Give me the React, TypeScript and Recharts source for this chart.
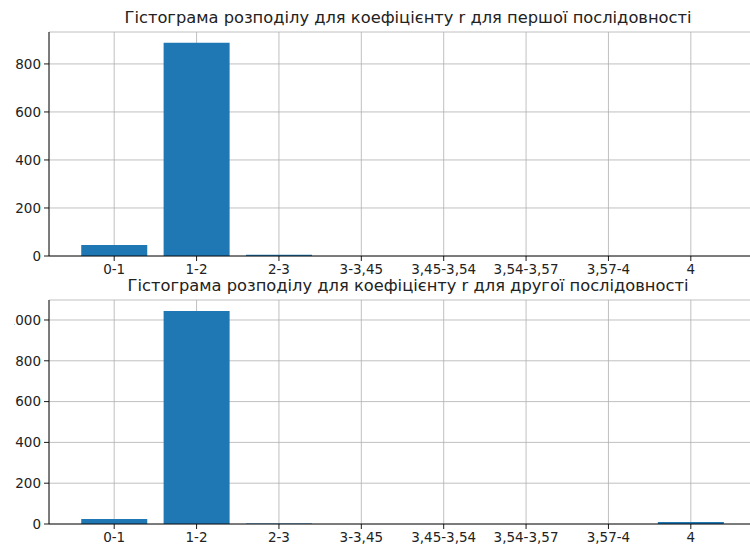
import { BarChart, Bar, XAxis, YAxis, CartesianGrid } from "recharts";

const categories = ["0-1", "1-2", "2-3", "3-3,45", "3,45-3,54", "3,54-3,57", "3,57-4", "4"];
const firstCounts = [46, 888, 5, 0, 0, 0, 0, 0];
const secondCounts = [25, 1044, 3, 0, 0, 0, 0, 10];
const firstTicks = [0, 200, 400, 600, 800];
const secondTicks = [0, 200, 400, 600, 800, 1000];

const firstTitle = "Гістограма розподілу для коефіцієнту r для першої послідовності";
const secondTitle = "Гістограма розподілу для коефіцієнту r для другої послідовності";

const FONT = "'DejaVu Sans', sans-serif";
const tickStyle = { fontSize: 13.5, fill: "#222", fontFamily: FONT };

function Histogram({ data, ticks, max, top, height, marginTop, xHeight, title }: {
  data: { name: string; count: number }[];
  ticks: number[];
  max: number;
  top: number;
  height: number;
  marginTop: number;
  xHeight: number;
  title: string;
}) {
  return (
    <div style={{ position: "absolute", left: 0, top, width: 800, height }}>
      <div
        style={{
          position: "absolute", left: 49, width: 718, top: marginTop - 23,
          textAlign: "center", fontFamily: FONT, fontSize: 16.3, lineHeight: "18px",
          color: "#222", whiteSpace: "nowrap",
        }}
      >
        {title}
      </div>
      <BarChart width={800} height={height} data={data} barCategoryGap="10%"
        margin={{ top: marginTop, right: 44, bottom: 0, left: 0 }}>
        <XAxis dataKey="name" interval={0} padding={{ left: 24, right: 24 }}
          tick={tickStyle} tickSize={5} tickMargin={3} height={xHeight}
          stroke="#000" strokeWidth={0.9} />
        <XAxis xAxisId="top" orientation="top" dataKey="name" height={0} tick={false}
          tickLine={false} stroke="#000" strokeWidth={0.9} />
        <YAxis domain={[0, max]} ticks={ticks} allowDataOverflow width={49}
          tick={tickStyle} tickSize={5} tickMargin={3} stroke="#000" strokeWidth={0.9} />
        <Bar dataKey="count" fill="#1f77b4" isAnimationActive={false} />
        <CartesianGrid stroke="#b0b0b0" strokeWidth={0.8} />
      </BarChart>
    </div>
  );
}

export default function App() {
  const first = categories.map((name, i) => ({ name, count: firstCounts[i] }));
  const second = categories.map((name, i) => ({ name, count: secondCounts[i] }));
  // the left edge is cropped like in the source image (the "1" of 1000 falls outside)
  return (
    <div style={{ position: "absolute", left: 0, top: 0, width: 750, height: 546, background: "#fff", overflow: "hidden" }}>
      <div style={{ position: "absolute", left: 14, top: 0, width: 736, height: 546, overflow: "hidden" }}>
        <div style={{ position: "absolute", left: -14, top: 0 }}>
          <Histogram data={first} ticks={firstTicks} max={933} top={0} height={280}
            marginTop={32} xHeight={24} title={firstTitle} />
          <Histogram data={second} ticks={secondTicks} max={1098} top={280} height={266}
            marginTop={20} xHeight={22} title={secondTitle} />
        </div>
      </div>
    </div>
  );
}
